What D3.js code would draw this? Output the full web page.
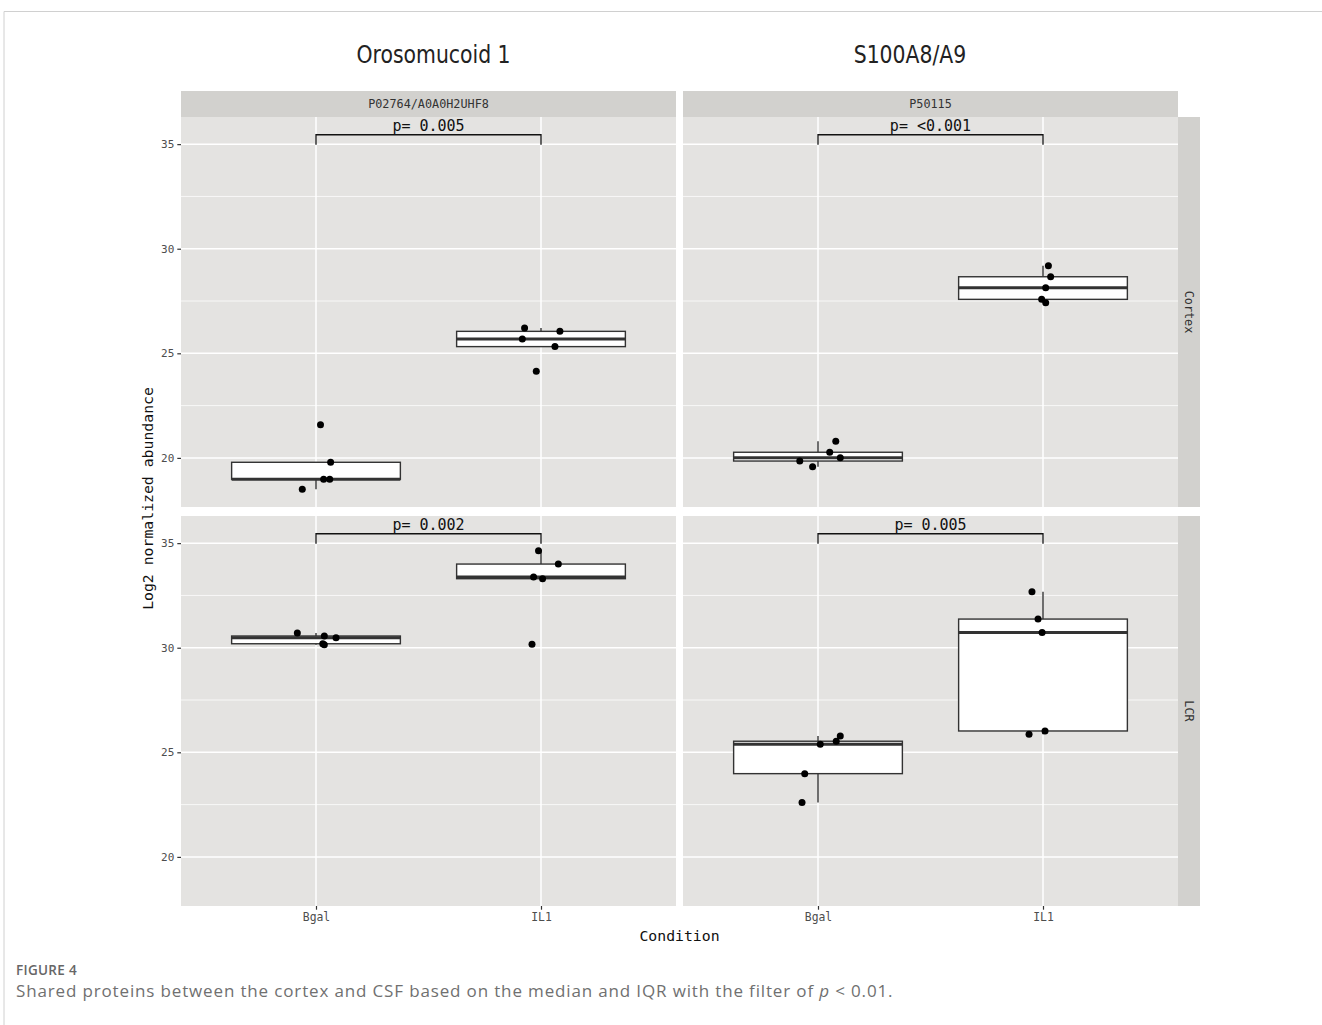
<!DOCTYPE html>
<html>
<head>
<meta charset="utf-8">
<script src="https://cdn.jsdelivr.net/npm/d3@7"></script>
<style>
  html, body { margin: 0; padding: 0; background: #fff; }
  svg { display: block; }
</style>
</head>
<body>
<svg id="chart" width="1322" height="1025"></svg>
<script>
// ---------------- DATA ----------------
const proteins   = ["Orosomucoid 1", "S100A8/A9"];
const accessions = ["P02764/A0A0H2UHF8", "P50115"];
const tissues    = ["Cortex", "LCR"];
const conditions = ["Bgal", "IL1"];
const yTicks     = [20, 25, 30, 35];
const yMinorTicks = [22.5, 27.5, 32.5];

// p-value labels: [tissue][protein]
const pLabelsCortex = ["p= 0.005", "p= <0.001"];
const pLabelsLCR    = ["p= 0.002", "p= 0.005"];
const bracketY   = 35.45;
const bracketTip = 34.97;

// Log2 normalized abundance per sample
const oroCortexBgal  = [21.59, 19.79, 18.98, 18.98, 18.50];
const oroCortexIL1   = [26.21, 26.05, 25.68, 25.32, 24.14];
const s100CortexBgal = [20.79, 20.27, 20.01, 19.85, 19.58];
const s100CortexIL1  = [29.19, 28.66, 28.13, 27.58, 27.42];
const oroLcrBgal     = [30.70, 30.56, 30.48, 30.19, 30.14];
const oroLcrIL1      = [34.64, 34.00, 33.38, 33.30, 30.17];
const s100LcrBgal    = [25.78, 25.53, 25.38, 23.98, 22.60];
const s100LcrIL1     = [32.68, 31.37, 30.73, 26.02, 25.86];

// horizontal jitter of each point (fraction of the category step)
const jOroCortexBgal  = [0.020, 0.065, 0.034, 0.061, -0.061];
const jOroCortexIL1   = [-0.073, 0.084, -0.083, 0.062, -0.021];
const jS100CortexBgal = [0.079, 0.052, 0.099, -0.081, -0.024];
const jS100CortexIL1  = [0.024, 0.034, 0.012, -0.006, 0.012];
const jOroLcrBgal     = [-0.083, 0.037, 0.089, 0.030, 0.037];
const jOroLcrIL1      = [-0.011, 0.077, -0.033, 0.007, -0.040];
const jS100LcrBgal    = [0.099, 0.081, 0.010, -0.059, -0.071];
const jS100LcrIL1     = [-0.049, -0.022, -0.004, 0.009, -0.062];

// panels table built from the arrays above
const panels = [
  {row: 0, col: 0, p: pLabelsCortex[0], groups: [[oroCortexBgal, jOroCortexBgal], [oroCortexIL1, jOroCortexIL1]]},
  {row: 0, col: 1, p: pLabelsCortex[1], groups: [[s100CortexBgal, jS100CortexBgal], [s100CortexIL1, jS100CortexIL1]]},
  {row: 1, col: 0, p: pLabelsLCR[0],    groups: [[oroLcrBgal, jOroLcrBgal], [oroLcrIL1, jOroLcrIL1]]},
  {row: 1, col: 1, p: pLabelsLCR[1],    groups: [[s100LcrBgal, jS100LcrBgal], [s100LcrIL1, jS100LcrIL1]]}
];

// ---------------- LAYOUT ----------------
const panelX = [181, 683], panelW = 495;
const panelY = [117, 516], panelH = 390;
const stripTopY = 91, stripTopH = 26;
const stripRightX = 1178, stripRightW = 22;

const mono = "'DejaVu Sans Mono', monospace";
const svg = d3.select("#chart");
svg.append("rect").attr("width", 1322).attr("height", 1025).attr("fill", "#fff");

// frame
svg.append("path").attr("d", "M4,1025 V11.5 H1322")
  .attr("fill", "none").attr("stroke", "#d0d0d0").attr("stroke-width", 1);

// shared y domain (ggplot-like 5% expansion)
const allVals = panels.flatMap(p => p.groups.flatMap(g => g[0])).concat([bracketY]);
const lo = d3.min(allVals), hi = d3.max(allVals);
const pad = (hi - lo) * 0.05;
const y = d3.scaleLinear().domain([lo - pad, hi + pad]).range([panelH, 0]);
const x = d3.scalePoint().domain(conditions).range([0, panelW]).padding(0.6);
const step = x.step();
const boxW = step * 0.75;

panels.forEach(P => {
  const g = svg.append("g").attr("transform", `translate(${panelX[P.col]},${panelY[P.row]})`);
  g.append("rect").attr("width", panelW).attr("height", panelH).attr("fill", "#e4e3e1");
  // grid
  g.selectAll(".minor").data(yMinorTicks).join("line")
    .attr("x1", 0).attr("x2", panelW).attr("y1", d => y(d)).attr("y2", d => y(d))
    .attr("stroke", "#fff").attr("stroke-width", 0.75);
  g.selectAll(".major").data(yTicks).join("line")
    .attr("x1", 0).attr("x2", panelW).attr("y1", d => y(d)).attr("y2", d => y(d))
    .attr("stroke", "#fff").attr("stroke-width", 1.5);
  g.selectAll(".vmajor").data(conditions).join("line")
    .attr("x1", d => x(d)).attr("x2", d => x(d)).attr("y1", 0).attr("y2", panelH)
    .attr("stroke", "#fff").attr("stroke-width", 1.5);

  // boxplots
  P.groups.forEach((grp, i) => {
    const vals = grp[0].slice().sort(d3.ascending);
    const q1 = d3.quantile(vals, 0.25), med = d3.quantile(vals, 0.5), q3 = d3.quantile(vals, 0.75);
    const iqr = q3 - q1;
    const upper = d3.max(vals.filter(v => v <= q3 + 1.5 * iqr));
    const lower = d3.min(vals.filter(v => v >= q1 - 1.5 * iqr));
    const cx = x(conditions[i]);
    const bg = g.append("g");
    bg.append("line").attr("x1", cx).attr("x2", cx).attr("y1", y(q3)).attr("y2", y(upper))
      .attr("stroke", "#333").attr("stroke-width", 1.4);
    bg.append("line").attr("x1", cx).attr("x2", cx).attr("y1", y(q1)).attr("y2", y(lower))
      .attr("stroke", "#333").attr("stroke-width", 1.4);
    bg.append("rect").attr("x", cx - boxW / 2).attr("width", boxW)
      .attr("y", y(q3)).attr("height", Math.max(0.01, y(q1) - y(q3)))
      .attr("fill", "#fff").attr("stroke", "#333").attr("stroke-width", 1.4);
    bg.append("line").attr("x1", cx - boxW / 2).attr("x2", cx + boxW / 2)
      .attr("y1", y(med)).attr("y2", y(med))
      .attr("stroke", "#333").attr("stroke-width", 3);
  });
  // points
  P.groups.forEach((grp, i) => {
    const cx = x(conditions[i]);
    g.append("g").selectAll("circle").data(grp[0]).join("circle")
      .attr("cx", (d, k) => cx + grp[1][k] * step)
      .attr("cy", d => y(d)).attr("r", 3.5).attr("fill", "#000");
  });
  // significance bracket
  const x1 = x(conditions[0]), x2 = x(conditions[1]);
  g.append("path")
    .attr("d", `M${x1},${y(bracketTip)} V${y(bracketY)} H${x2} V${y(bracketTip)}`)
    .attr("fill", "none").attr("stroke", "#111").attr("stroke-width", 1.3);
  g.append("text").attr("x", (x1 + x2) / 2).attr("y", y(bracketY) - 3.5)
    .attr("text-anchor", "middle").attr("font-family", mono).attr("font-size", 15)
    .attr("fill", "#111").text(P.p);
});

// top strips
accessions.forEach((a, c) => {
  svg.append("rect").attr("x", panelX[c]).attr("y", stripTopY).attr("width", panelW)
    .attr("height", stripTopH).attr("fill", "#d2d1ce");
  svg.append("text").attr("x", panelX[c] + panelW / 2).attr("y", stripTopY + stripTopH / 2)
    .attr("dy", "0.36em").attr("text-anchor", "middle").attr("font-family", mono)
    .attr("font-size", 11.8).attr("fill", "#333").text(a);
});
// right strips
tissues.forEach((t, r) => {
  svg.append("rect").attr("x", stripRightX).attr("y", panelY[r]).attr("width", stripRightW)
    .attr("height", panelH).attr("fill", "#d2d1ce");
  const cx = stripRightX + stripRightW / 2, cy = panelY[r] + panelH / 2;
  svg.append("text").attr("transform", `translate(${cx},${cy}) rotate(90)`)
    .attr("dy", "0.36em").attr("text-anchor", "middle").attr("font-family", mono)
    .attr("font-size", 11.8).attr("fill", "#333").text(t);
});

// y axes (left column)
panelY.forEach(py => {
  const ax = svg.append("g").attr("transform", `translate(${panelX[0]},${py})`)
    .call(d3.axisLeft(y).tickValues(yTicks).tickSize(3.7).tickPadding(3));
  ax.select(".domain").remove();
  ax.selectAll("line").attr("stroke", "#333").attr("stroke-width", 1.2);
  ax.selectAll("text").attr("font-family", mono).attr("font-size", 11).attr("fill", "#4d4d4d");
});
// x axes (bottom row)
panelX.forEach(px => {
  const ax = svg.append("g").attr("transform", `translate(${px},${panelY[1] + panelH})`)
    .call(d3.axisBottom(x).tickSize(3.7).tickPadding(3));
  ax.select(".domain").remove();
  ax.selectAll("line").attr("stroke", "#333").attr("stroke-width", 1.2);
  ax.selectAll("text").attr("font-family", mono).attr("font-size", 11.4).attr("fill", "#4d4d4d");
});

// axis titles
svg.append("text").attr("x", (panelX[0] + panelX[1] + panelW) / 2).attr("y", 941)
  .attr("text-anchor", "middle").attr("font-family", mono).attr("font-size", 14.8)
  .attr("fill", "#111").text("Condition");
svg.append("text")
  .attr("transform", `translate(153,${(stripTopY + panelY[1] + panelH) / 2}) rotate(-90)`)
  .attr("text-anchor", "middle").attr("font-family", mono).attr("font-size", 14.8)
  .attr("fill", "#111").text("Log2 normalized abundance");

// protein titles
const titleX = [433.5, 910];
proteins.forEach((p, i) => {
  svg.append("text").attr("transform", `translate(${titleX[i]},63) scale(0.85,1)`)
    .attr("text-anchor", "middle").attr("font-family", "'DejaVu Sans', sans-serif")
    .attr("font-size", 24).attr("fill", "#222").text(p);
});

// caption
svg.append("text").attr("x", 16).attr("y", 975)
  .attr("font-family", "'Open Sans', sans-serif").attr("font-weight", 600)
  .attr("font-size", 13.5).attr("letter-spacing", 0.3).attr("fill", "#666").text("FIGURE 4");
const cap = svg.append("text").attr("x", 16).attr("y", 997)
  .attr("font-family", "'Open Sans', sans-serif").attr("font-size", 17)
  .attr("letter-spacing", 0.85).attr("fill", "#707070");
cap.append("tspan").text("Shared proteins between the cortex and CSF based on the median and IQR with the filter of ");
cap.append("tspan").attr("font-style", "italic").text("p");
cap.append("tspan").text(" < 0.01.");
</script>
</body>
</html>
